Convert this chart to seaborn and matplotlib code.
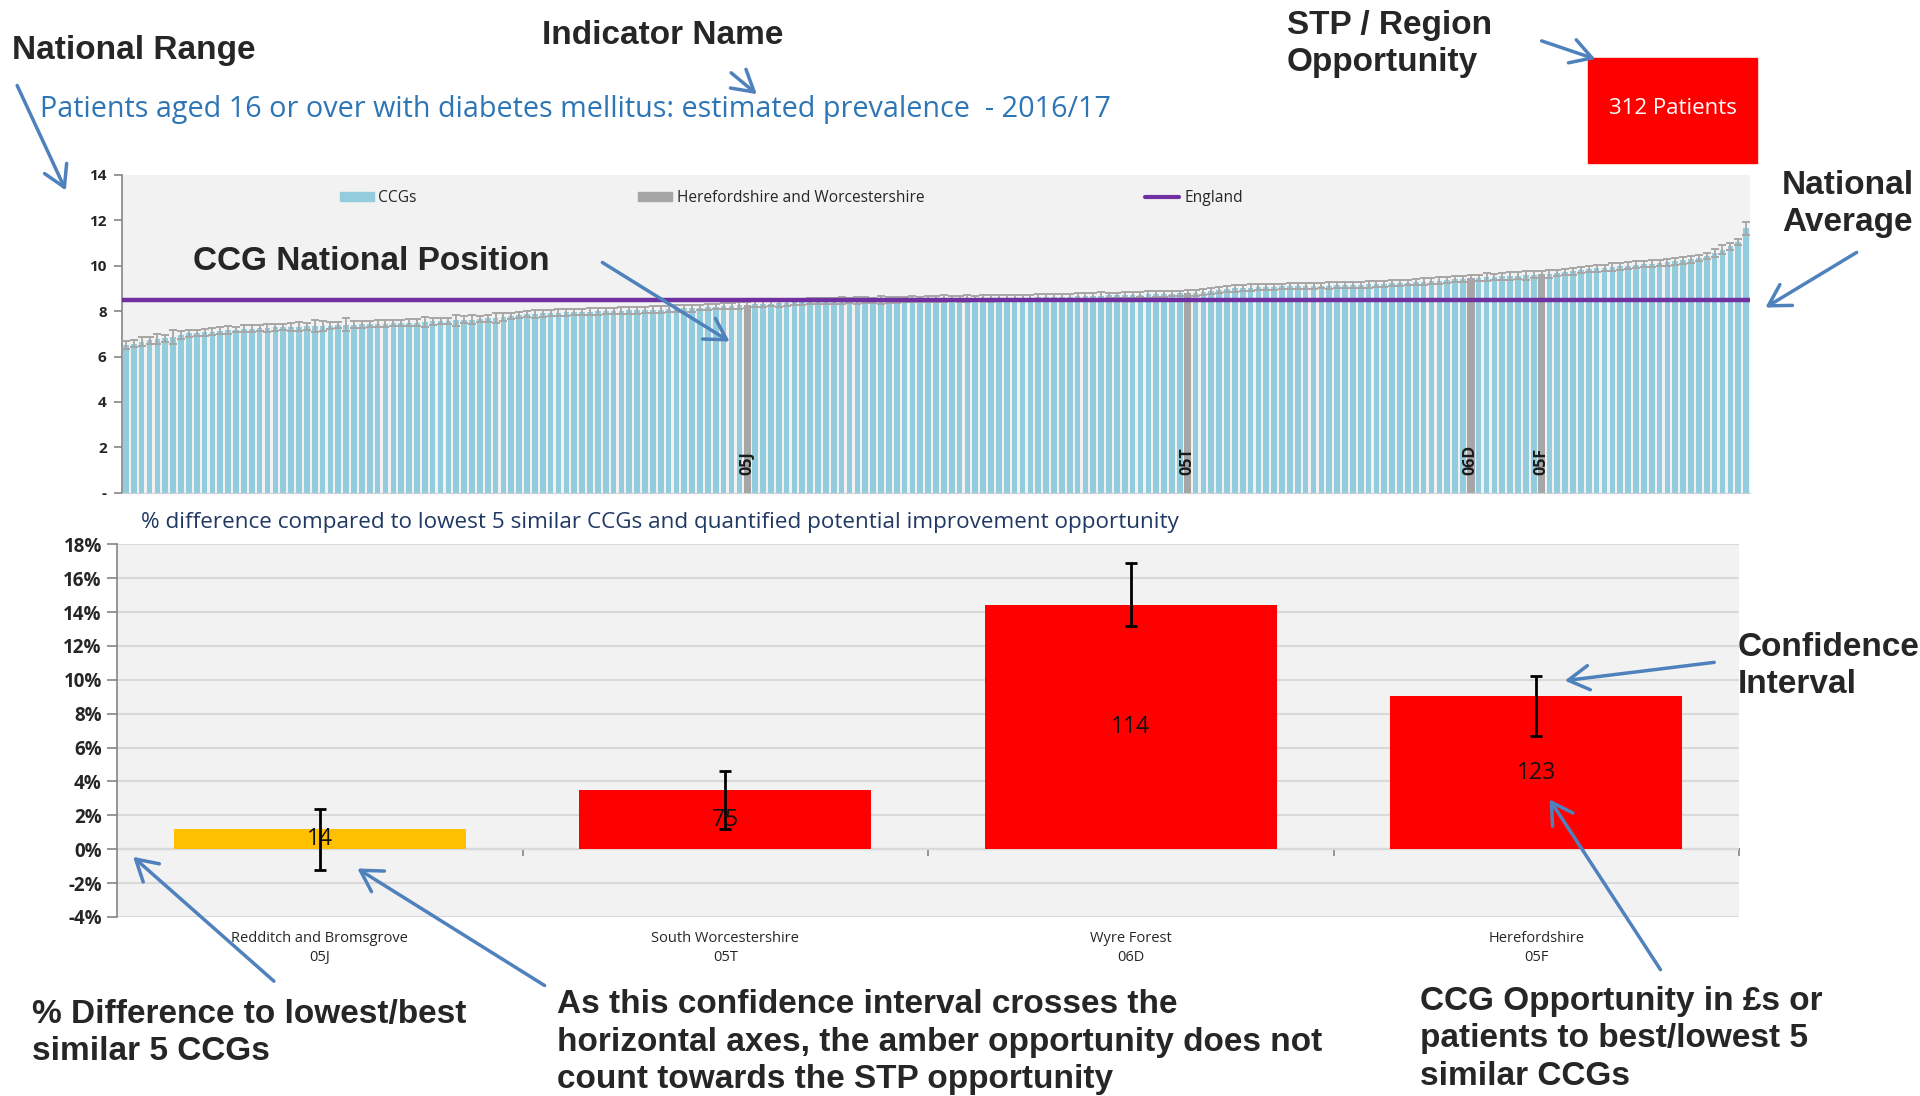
import matplotlib
matplotlib.use("Agg")
import numpy as np
import pandas as pd
import seaborn as sns
import matplotlib.pyplot as plt
from matplotlib.patches import Patch, Rectangle, FancyArrowPatch
from matplotlib.lines import Line2D

# ---- Top chart: estimated prevalence (%) for every CCG, sorted low -> high
prevalence = [
    6.50, 6.57, 6.66, 6.71, 6.77, 6.80, 6.86, 6.95, 7.02, 7.04,
    7.07, 7.10, 7.14, 7.17, 7.19, 7.22, 7.23, 7.25, 7.26, 7.28,
    7.29, 7.31, 7.32, 7.33, 7.35, 7.36, 7.36, 7.38, 7.40, 7.41,
    7.42, 7.42, 7.44, 7.45, 7.46, 7.47, 7.49, 7.50, 7.53, 7.55,
    7.56, 7.57, 7.60, 7.62, 7.63, 7.66, 7.68, 7.70, 7.74, 7.78,
    7.83, 7.86, 7.88, 7.91, 7.92, 7.94, 7.95, 7.96, 7.97, 7.98,
    7.99, 8.00, 8.01, 8.02, 8.03, 8.04, 8.05, 8.06, 8.07, 8.08,
    8.10, 8.12, 8.13, 8.16, 8.18, 8.20, 8.22, 8.24, 8.26, 8.28,
    8.30, 8.31, 8.33, 8.35, 8.37, 8.39, 8.41, 8.43, 8.44, 8.45,
    8.45, 8.46, 8.46, 8.47, 8.48, 8.48, 8.49, 8.50, 8.50, 8.51,
    8.52, 8.52, 8.53, 8.53, 8.54, 8.55, 8.55, 8.56, 8.56, 8.57,
    8.57, 8.58, 8.59, 8.59, 8.60, 8.60, 8.61, 8.62, 8.62, 8.63,
    8.64, 8.65, 8.66, 8.67, 8.68, 8.69, 8.70, 8.71, 8.72, 8.73,
    8.74, 8.75, 8.76, 8.77, 8.78, 8.79, 8.80, 8.84, 8.88, 8.93,
    8.97, 9.00, 9.02, 9.04, 9.06, 9.07, 9.08, 9.09, 9.10, 9.10,
    9.11, 9.12, 9.12, 9.13, 9.14, 9.15, 9.16, 9.17, 9.18, 9.20,
    9.21, 9.23, 9.24, 9.26, 9.28, 9.30, 9.32, 9.35, 9.38, 9.41,
    9.43, 9.45, 9.47, 9.49, 9.51, 9.53, 9.55, 9.57, 9.58, 9.60,
    9.62, 9.65, 9.68, 9.72, 9.76, 9.80, 9.84, 9.88, 9.91, 9.95,
    9.98, 10.01, 10.04, 10.07, 10.10, 10.13, 10.16, 10.20, 10.24, 10.29,
    10.34, 10.42, 10.56, 10.70, 10.86, 11.05, 11.65]

# half width of the confidence interval for each CCG
prevalence_ci = [
    0.18, 0.16, 0.20, 0.15, 0.22, 0.17, 0.30, 0.19, 0.16, 0.14,
    0.15, 0.17, 0.14, 0.16, 0.13, 0.15, 0.14, 0.13, 0.16, 0.15,
    0.14, 0.18, 0.20, 0.15, 0.25, 0.22, 0.16, 0.14, 0.28, 0.17,
    0.15, 0.14, 0.16, 0.15, 0.13, 0.14, 0.15, 0.16, 0.22, 0.17,
    0.14, 0.15, 0.24, 0.16, 0.18, 0.13, 0.15, 0.21, 0.16, 0.14,
    0.15, 0.13, 0.17, 0.16, 0.14, 0.15, 0.16, 0.13, 0.14, 0.15,
    0.16, 0.14, 0.13, 0.15, 0.14, 0.16, 0.13, 0.15, 0.14, 0.13,
    0.15, 0.14, 0.16, 0.13, 0.15, 0.12, 0.14, 0.13, 0.15, 0.14,
    0.13, 0.14, 0.12, 0.15, 0.13, 0.14, 0.12, 0.13, 0.14, 0.12,
    0.13, 0.15, 0.12, 0.14, 0.13, 0.12, 0.16, 0.13, 0.14, 0.12,
    0.13, 0.12, 0.14, 0.13, 0.15, 0.12, 0.13, 0.14, 0.12, 0.13,
    0.15, 0.13, 0.12, 0.14, 0.13, 0.12, 0.14, 0.13, 0.15, 0.12,
    0.13, 0.14, 0.12, 0.13, 0.15, 0.13, 0.12, 0.14, 0.13, 0.12,
    0.14, 0.13, 0.15, 0.12, 0.13, 0.14, 0.13, 0.12, 0.14, 0.13,
    0.12, 0.14, 0.13, 0.15, 0.12, 0.14, 0.13, 0.12, 0.14, 0.13,
    0.15, 0.13, 0.12, 0.14, 0.13, 0.12, 0.14, 0.13, 0.15, 0.12,
    0.14, 0.13, 0.15, 0.12, 0.13, 0.14, 0.12, 0.15, 0.13, 0.14,
    0.13, 0.15, 0.14, 0.18, 0.13, 0.15, 0.17, 0.14, 0.20, 0.16,
    0.14, 0.17, 0.15, 0.14, 0.16, 0.14, 0.13, 0.15, 0.14, 0.16,
    0.15, 0.14, 0.16, 0.13, 0.15, 0.14, 0.16, 0.15, 0.14, 0.16,
    0.15, 0.14, 0.18, 0.20, 0.16, 0.15, 0.30]

stp_positions = [79, 135, 171, 180]
stp_codes = ["05J", "05T", "06D", "05F"]
england_value = 8.47

# ---- Bottom chart: % difference to lowest 5 similar CCGs
ccg_names = ["Redditch and Bromsgrove", "South Worcestershire", "Wyre Forest", "Herefordshire"]
ccg_codes = ["05J", "05T", "06D", "05F"]
pct_diff = [1.2, 3.5, 14.4, 9.05]
ci_lower = [-1.2, 1.2, 13.2, 6.7]
ci_upper = [2.4, 4.6, 16.9, 10.2]
opportunity = [14, 75, 114, 123]

title = "Patients aged 16 or over with diabetes mellitus: estimated prevalence  - 2016/17"
subtitle = "% difference compared to lowest 5 similar CCGs and quantified potential improvement opportunity"

W, H = 1920, 1096
BLUE = "#93CDDD"
GREY = "#A6A6A6"
AXGREY = "#868686"
ARROW = "#4F81BD"


def fxy(x, y):
    # pixel position (from top-left) -> figure fraction
    return x / W, 1 - y / H


sns.set_style("white")
plt.rcParams["font.family"] = ["Open Sans", "DejaVu Sans"]
ANNOT = ["Liberation Sans", "DejaVu Sans"]

fig = plt.figure(figsize=(W / 100, H / 100), dpi=100)

# ================= top chart =================
ax1 = fig.add_axes([122 / W, 1 - 492.7 / H, 1628 / W, 317.7 / H])
ax1.set_facecolor("#F2F2F2")
df = pd.DataFrame({"pos": range(len(prevalence)), "value": prevalence})
df["group"] = np.where(df["pos"].isin(stp_positions), "Herefordshire and Worcestershire", "CCGs")
sns.barplot(data=df, x="pos", y="value", hue="group",
            palette={"CCGs": BLUE, "Herefordshire and Worcestershire": GREY},
            dodge=False, width=0.72, errorbar=None, legend=False, linewidth=0,
            saturation=1, ax=ax1)

# the highlighted CCGs are drawn slightly wider
grey_rgb = matplotlib.colors.to_rgb(GREY)
for bar in ax1.patches:
    if np.allclose(bar.get_facecolor()[:3], grey_rgb):
        cx = bar.get_x() + bar.get_width() / 2
        bar.set_width(0.95)
        bar.set_x(cx - 0.475)

ax1.errorbar(df["pos"], df["value"], yerr=prevalence_ci, fmt="none", ecolor=GREY,
             elinewidth=1.3, capsize=3, capthick=1.4, zorder=3)
ax1.axhline(england_value, color="#7030A0", lw=3.2, zorder=4)

for p, code in zip(stp_positions, stp_codes):
    ax1.text(p, 0.8, code, rotation=90, ha="center", va="bottom", fontsize=11.5,
             fontweight="bold", color="#1A1A1A", zorder=5)

ax1.set_xlim(-0.5, len(prevalence) - 0.5)
ax1.set_ylim(0, 14)
ax1.set_xticks([])
ax1.set_yticks(range(0, 15, 2))
ax1.set_yticklabels(["-"] + [str(v) for v in range(2, 15, 2)], fontsize=11, fontweight="bold")
ax1.tick_params(axis="y", length=6, width=1.2, color=AXGREY, pad=5, left=True)
ax1.set_xlabel("")
ax1.set_ylabel("")
for s in ["top", "right"]:
    ax1.spines[s].set_visible(False)
ax1.spines["left"].set_color(AXGREY)
ax1.spines["left"].set_linewidth(1.2)
ax1.spines["bottom"].set_color("#D0D0D0")

handles = [Patch(color=BLUE), Patch(color=GREY), Line2D([], [], color="#7030A0", lw=3)]
ax1.legend(handles, ["CCGs", "Herefordshire and Worcestershire", "England"], ncol=3,
           loc="center", bbox_to_anchor=(0.411, 0.928), frameon=False, fontsize=11.2,
           columnspacing=14.2, handlelength=2.2, handleheight=0.5, handletextpad=0.3,
           labelcolor="#262626")

# ================= bottom chart =================
ax2 = fig.add_axes([117 / W, 1 - 917 / H, 1622 / W, 372.7 / H])
ax2.set_facecolor("#F2F2F2")
df2 = pd.DataFrame({
    "label": [f"{n}\n{c}" for n, c in zip(ccg_names, ccg_codes)],
    "diff": pct_diff,
    "status": ["amber" if lo < 0 else "red" for lo in ci_lower],
})
sns.barplot(data=df2, x="label", y="diff", hue="status",
            palette={"amber": "#FFC000", "red": "#FF0000"},
            dodge=False, width=0.72, errorbar=None, legend=False, linewidth=0,
            saturation=1, ax=ax2, zorder=2)

for cont in ax2.containers:
    idx = [int(round(b.get_x() + b.get_width() / 2)) for b in cont]
    ax2.bar_label(cont, labels=[str(opportunity[i]) for i in idx], label_type="center",
                  fontsize=16.5, color="#111111")

d = np.array(pct_diff)
ax2.errorbar(range(len(d)), d, yerr=[d - np.array(ci_lower), np.array(ci_upper) - d],
             fmt="none", ecolor="black", elinewidth=2, capsize=4, capthick=2, zorder=4)

ax2.set_xlim(-0.5, len(d) - 0.5)
ax2.set_ylim(-4, 18)
ax2.set_yticks(range(-4, 19, 2))
ax2.set_yticklabels([f"{v}%" for v in range(-4, 19, 2)], fontsize=13.5, fontweight="bold")
ax2.yaxis.grid(True, color="#D9D9D9", lw=1.5)
ax2.set_axisbelow(True)
ax2.tick_params(axis="y", length=7, width=1.2, color=AXGREY, pad=4, left=True)
ax2.tick_params(axis="x", length=0, pad=10, labelsize=10.5, labelcolor="#262626")
for lbl in ax2.get_xticklabels():
    lbl.set_linespacing(1.35)
ax2.set_xlabel("")
ax2.set_ylabel("")
for s in ["top", "right", "bottom"]:
    ax2.spines[s].set_visible(False)
ax2.spines["left"].set_color(AXGREY)
ax2.spines["left"].set_linewidth(1.2)

# horizontal axis through 0% with category divider ticks
y0, y1 = ax2.get_ylim()
zero_axis = ax2.secondary_xaxis((0 - y0) / (y1 - y0))
zero_axis.set_xticks([i + 0.5 for i in range(len(d))])
zero_axis.set_xticklabels([])
zero_axis.tick_params(length=5, width=1.2, color=AXGREY, direction="out")
for s in zero_axis.spines.values():
    s.set_color(AXGREY)
    s.set_linewidth(1.5)

# ================= titles & call-outs =================
fig.text(*fxy(40, 109), title, color="#2E75B6", fontsize=20.7, va="center")
fig.text(*fxy(141, 522), subtitle, color="#1F3864", fontsize=16.2, va="center")

stp_total = sum(o for o, lo in zip(opportunity, ci_lower) if lo > 0)
fig.add_artist(Rectangle(fxy(1588, 163), 169 / W, 105 / H, transform=fig.transFigure,
                         color="#FF0000"))
fig.text(*fxy(1673, 109), f"{stp_total} Patients", color="white", fontsize=16,
         ha="center", va="center")

callouts = [
    ("National Range", 12, 51),
    ("Indicator Name", 542, 36),
    ("STP / Region\nOpportunity", 1287, 44),
    ("National\nAverage", 1782, 204),
    ("CCG National Position", 193, 261),
    ("Confidence\nInterval", 1738, 666),
    ("% Difference to lowest/best\nsimilar 5 CCGs", 32, 1033),
    ("As this confidence interval crosses the\nhorizontal axes, the amber opportunity does not\n"
     "count towards the STP opportunity", 557, 1042),
    ("CCG Opportunity in £s or\npatients to best/lowest 5\nsimilar CCGs", 1420, 1039),
]
for txt, x, y in callouts:
    fig.text(*fxy(x, y), txt, fontsize=24, fontweight="bold", family=ANNOT,
             ha="left", va="center", linespacing=1.27)

arrows = [
    ((16, 83), (67, 193)),
    ((729, 71), (759, 96)),
    ((1539, 40), (1598, 60)),
    ((1859, 251), (1763, 309)),
    ((600, 261), (732, 343)),
    ((1717, 662), (1562, 681)),
    ((276, 983), (131, 855)),
    ((547, 987), (355, 867)),
    ((1662, 972), (1548, 797)),
]
for a, b in arrows:
    fig.add_artist(FancyArrowPatch(fxy(*a), fxy(*b), transform=fig.transFigure,
                                   arrowstyle="->,head_length=0.6,head_width=0.35",
                                   mutation_scale=25, color=ARROW, lw=2.5))

fig.savefig("out.png", dpi=100)
